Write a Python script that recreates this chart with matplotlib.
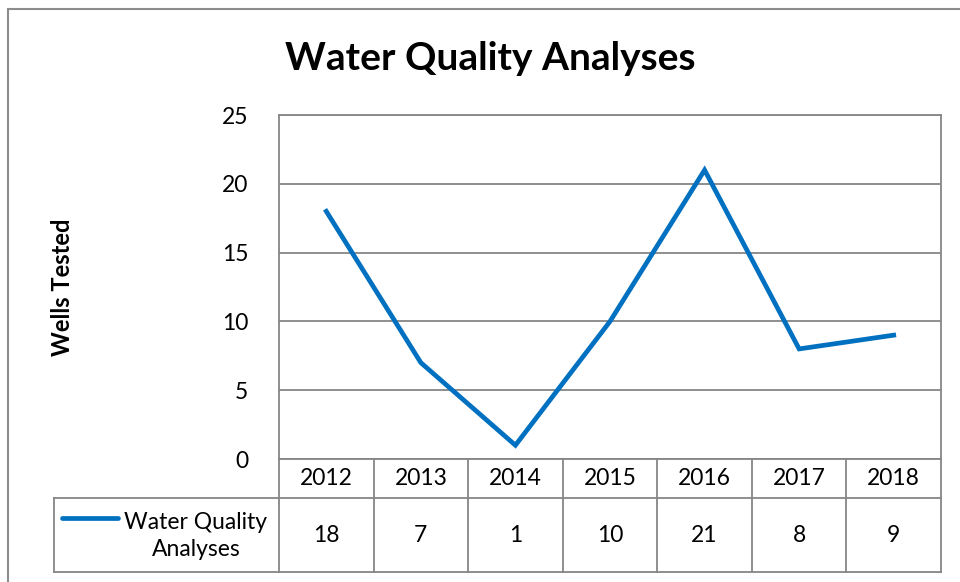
import matplotlib.pyplot as plt
from matplotlib.patches import Rectangle
from matplotlib.lines import Line2D

years = ['2012', '2013', '2014', '2015', '2016', '2017', '2018']
wells = [18, 7, 1, 10, 21, 8, 9]
series_name = 'Water Quality\nAnalyses'
y_ticks = [0, 5, 10, 15, 20, 25]

blue = '#0070C0'
gray = '#868686'
plt.rcParams['font.family'] = ['Lato', 'DejaVu Sans']

W, H = 960, 582
fig = plt.figure(figsize=(9.6, 5.82), dpi=100)

def fx(px):
    return px / W

def fy(py):
    return 1 - py / H

# outer chart frame
fig.patches.append(Rectangle((fx(8), fy(590)), fx(960), fy(9) - fy(590),
                             transform=fig.transFigure, fill=False,
                             edgecolor='#8c8c8c', lw=1.5))

left, right, top, bottom = 279, 941, 115, 459
ax = fig.add_axes([fx(left), fy(bottom), fx(right - left), fy(top) - fy(bottom)])
x = list(range(len(years)))
ax.plot(x, wells, color=blue, lw=3.4, solid_joinstyle='miter')
ax.set_xlim(-0.5, len(years) - 0.5)
ax.set_ylim(0, 25)
ax.set_yticks(y_ticks)
ax.set_yticklabels([str(t) for t in y_ticks], fontsize=16.5)
ax.tick_params(axis='y', length=0, pad=22)
ax.set_xticks([])
ax.grid(axis='y', color=gray, lw=1.3)
ax.set_axisbelow(True)
for s in ['left', 'top', 'right']:
    ax.spines[s].set_color(gray)
    ax.spines[s].set_linewidth(1.3)
ax.spines['bottom'].set_visible(False)

fig.text(fx(490), fy(58), 'Water Quality Analyses', ha='center', va='center',
         fontsize=28, fontweight='bold')
fig.text(fx(62), fy(287), 'Wells Tested', rotation=90, ha='center', va='center',
         fontsize=17, fontweight='bold')

# data table below the plot
row1, row2 = 498, 572
col_w = (right - left) / len(years)
tl = dict(color=gray, lw=1.3, transform=fig.transFigure, clip_on=False)
fig.add_artist(Line2D([fx(left), fx(right)], [fy(bottom), fy(bottom)], **tl))
fig.add_artist(Line2D([fx(54), fx(right)], [fy(row1), fy(row1)], **tl))
fig.add_artist(Line2D([fx(54), fx(right)], [fy(row2), fy(row2)], **tl))
fig.add_artist(Line2D([fx(54), fx(54)], [fy(row1), fy(row2)], **tl))
for i in range(len(years) + 1):
    xp = left + i * col_w
    fig.add_artist(Line2D([fx(xp), fx(xp)], [fy(bottom), fy(row2)], **tl))
for i, (yr, v) in enumerate(zip(years, wells)):
    xc = left + (i + 0.5) * col_w
    fig.text(fx(xc), fy((bottom + row1) / 2), yr, ha='center', va='center', fontsize=16.5)
    fig.text(fx(xc), fy((row1 + row2) / 2), str(v), ha='center', va='center', fontsize=16.5)

# legend key in the table
fig.add_artist(Line2D([fx(62), fx(118)], [fy(518), fy(518)], color=blue, lw=3.4,
                      transform=fig.transFigure, solid_capstyle='round'))
fig.text(fx(196), fy(536), series_name, ha='center', va='center', fontsize=16.5,
         multialignment='center', linespacing=1.38)

fig.savefig('out.png', dpi=100)
